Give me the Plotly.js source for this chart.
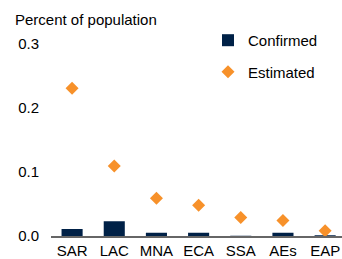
<!DOCTYPE html>
<html>
<head>
<meta charset="utf-8">
<script src="https://cdn.plot.ly/plotly-3.0.1.min.js"></script>
<style>html,body{margin:0;padding:0;background:#fff;}#chart{width:342px;height:259px;}</style>
</head>
<body>
<div id="chart"></div>
<script>
const regions = ["SAR", "LAC", "MNA", "ECA", "SSA", "AEs", "EAP"];
const confirmed = [0.011, 0.023, 0.005, 0.005, 0.0005, 0.005, 0.001];
const estimated = [0.23, 0.109, 0.059, 0.048, 0.029, 0.024, 0.008];
const yTicks = [0, 0.1, 0.2, 0.3];
const yTickLabels = ["0.0", "0.1", "0.2", "0.3"];

const W = 342, H = 259;
const ML = 51, MB = 22.5, TOP = 43.5;
const plotW = W - ML, plotH = H - MB;
const fontFam = "Liberation Sans, Arial, sans-serif";

const data = [
  {
    type: "bar", name: "Confirmed", x: regions, y: confirmed,
    width: 0.5, marker: {color: "#002147", line: {width: 0}},
    legendgroup: "a", hoverinfo: "none"
  },
  {
    type: "scatter", mode: "markers", name: "Estimated", x: regions, y: estimated,
    marker: {symbol: "diamond", size: 10, color: "#F7912A"},
    legendgroup: "b", hoverinfo: "none", cliponaxis: false
  }
];

const layout = {
  width: W, height: H,
  margin: {l: ML, r: 0, t: 0, b: MB, pad: 0},
  paper_bgcolor: "#fff", plot_bgcolor: "#fff",
  font: {family: fontFam, size: 15, color: "#000"},
  title: {
    text: "Percent of population",
    xref: "container", yref: "container",
    x: 15 / W, xanchor: "left",
    y: 1 - 20 / H, yanchor: "middle",
    font: {family: fontFam, size: 15, color: "#000"}
  },
  showlegend: true,
  legend: {
    xref: "paper", yref: "paper",
    x: (208 - ML) / plotW, xanchor: "left",
    y: 1 - 24 / plotH, yanchor: "top",
    bgcolor: "rgba(0,0,0,0)", borderwidth: 0,
    traceorder: "grouped", tracegroupgap: 9,
    font: {family: fontFam, size: 15, color: "#000"}
  },
  xaxis: {
    type: "category", range: [-0.5, 6.4],
    showgrid: false, zeroline: false,
    showline: true, linecolor: "#666", linewidth: 1.5,
    ticks: "", tickangle: 0, automargin: false,
    tickfont: {family: fontFam, size: 15, color: "#000"},
    fixedrange: true
  },
  yaxis: {
    range: [0, 0.3],
    domain: [0, (plotH - TOP) / plotH],
    tickvals: yTicks, ticktext: yTickLabels,
    showgrid: false, zeroline: false, showline: false,
    ticks: "", ticklabelstandoff: 11, automargin: false,
    tickfont: {family: fontFam, size: 15, color: "#000"},
    fixedrange: true
  },
  bargap: 0.5
};

Plotly.newPlot("chart", data, layout, {staticPlot: true, displayModeBar: false});
</script>
</body>
</html>
